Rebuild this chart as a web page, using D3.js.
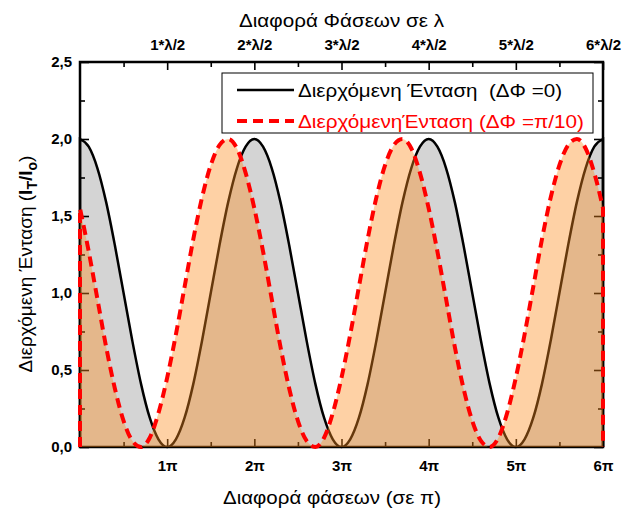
<!DOCTYPE html>
<html>
<head>
<meta charset="utf-8">
<script src="https://cdnjs.cloudflare.com/ajax/libs/d3/7.8.5/d3.min.js"></script>
<style>
  body { margin: 0; background: #fff; }
  svg { font-family: "Liberation Sans", Arial, sans-serif; }
  .tick text { font-weight: bold; font-size: 15px; fill: #000; }
  .tick line { stroke: #000; stroke-width: 1.6; }
</style>
</head>
<body>
<div id="container"></div>
<script>
const width = 629;
const height = 513;

// phase difference in units of pi, sampled every 0.1
const phase = d3.range(0, 61).map(i => i / 10);

// transmitted intensity, dPhi = 0
const intensity0 = [
  2.00, 1.95, 1.81, 1.59, 1.31, 1.00, 0.69, 0.41, 0.19, 0.05,
  0.00, 0.05, 0.19, 0.41, 0.69, 1.00, 1.31, 1.59, 1.81, 1.95,
  2.00, 1.95, 1.81, 1.59, 1.31, 1.00, 0.69, 0.41, 0.19, 0.05,
  0.00, 0.05, 0.19, 0.41, 0.69, 1.00, 1.31, 1.59, 1.81, 1.95,
  2.00, 1.95, 1.81, 1.59, 1.31, 1.00, 0.69, 0.41, 0.19, 0.05,
  0.00, 0.05, 0.19, 0.41, 0.69, 1.00, 1.31, 1.59, 1.81, 1.95,
  2.00
];

// transmitted intensity, dPhi = pi/10
const intensity1 = [
  1.55, 1.27, 0.96, 0.65, 0.38, 0.17, 0.04, 0.00, 0.06, 0.22,
  0.45, 0.73, 1.04, 1.35, 1.62, 1.83, 1.96, 2.00, 1.94, 1.78,
  1.55, 1.27, 0.96, 0.65, 0.38, 0.17, 0.04, 0.00, 0.06, 0.22,
  0.45, 0.73, 1.04, 1.35, 1.62, 1.83, 1.96, 2.00, 1.94, 1.78,
  1.55, 1.27, 0.96, 0.65, 0.38, 0.17, 0.04, 0.00, 0.06, 0.22,
  0.45, 0.73, 1.04, 1.35, 1.62, 1.83, 1.96, 2.00, 1.94, 1.78,
  1.55
];

const bottomTicks = [1, 2, 3, 4, 5, 6];
const bottomLabels = ["1π", "2π", "3π", "4π", "5π", "6π"];
const topLabels = ["1*λ/2", "2*λ/2", "3*λ/2", "4*λ/2", "5*λ/2", "6*λ/2"];
const minorX = [0.5, 1.5, 2.5, 3.5, 4.5, 5.5];
const yTicks = [0, 0.5, 1.0, 1.5, 2.0, 2.5];
const minorY = [0.25, 0.75, 1.25, 1.75, 2.25];

const legendLabels = ["Διερχόμενη Ένταση  (ΔΦ =0)", "ΔιερχόμενηΈνταση (ΔΦ =π/10)"];

const pL = 80, pR = 603, pT = 62, pB = 447;

const x = d3.scaleLinear().domain([0, 6]).range([pL, pR]);
const y = d3.scaleLinear().domain([0, 2.5]).range([pB, pT]);

const svg = d3.select("#container").append("svg")
  .attr("width", width)
  .attr("height", height);

const rows0 = phase.map((p, i) => ({ p: p, v: intensity0[i] }));
const rows1 = phase.map((p, i) => ({ p: p, v: intensity1[i] }));

const area = d3.area()
  .x(d => x(d.p))
  .y0(y(0))
  .y1(d => y(d.v))
  .curve(d3.curveMonotoneX);

// closed outline: up the left edge, along the curve, down the right edge
const outline = rows => {
  const l = d3.line().x(d => x(d.p)).y(d => y(d.v)).curve(d3.curveMonotoneX)(rows);
  return "M" + x(0) + "," + y(0) + "L" + l.slice(1) + "L" + x(6) + "," + y(0);
};

// grey fill under the dPhi = 0 curve
svg.append("path")
  .attr("d", area(rows0))
  .attr("fill", "#d4d4d4");

// axes with inward ticks
const fmtY = d => d3.format(".1f")(d).replace(".", ",");

svg.append("g")
  .attr("transform", "translate(0," + pB + ")")
  .call(d3.axisBottom(x).tickValues(bottomTicks).tickSize(-8).tickPadding(13)
    .tickFormat((d, i) => bottomLabels[i]))
  .call(g => g.select(".domain").remove());
svg.append("g")
  .attr("transform", "translate(0," + pB + ")")
  .call(d3.axisBottom(x).tickValues(minorX).tickSize(-5).tickFormat(""))
  .call(g => g.select(".domain").remove());

svg.append("g")
  .attr("transform", "translate(0," + pT + ")")
  .call(d3.axisTop(x).tickValues(bottomTicks).tickSize(-8).tickPadding(12)
    .tickFormat((d, i) => topLabels[i]))
  .call(g => g.select(".domain").remove());
svg.append("g")
  .attr("transform", "translate(0," + pT + ")")
  .call(d3.axisTop(x).tickValues(minorX).tickSize(-5).tickFormat(""))
  .call(g => g.select(".domain").remove());

svg.append("g")
  .attr("transform", "translate(" + pL + ",0)")
  .call(d3.axisLeft(y).tickValues(yTicks).tickSize(-9).tickPadding(8).tickFormat(fmtY))
  .call(g => g.select(".domain").remove());
svg.append("g")
  .attr("transform", "translate(" + pL + ",0)")
  .call(d3.axisLeft(y).tickValues(minorY).tickSize(-5).tickFormat(""))
  .call(g => g.select(".domain").remove());

svg.append("g")
  .attr("transform", "translate(" + pR + ",0)")
  .call(d3.axisRight(y).tickValues(yTicks).tickSize(-9).tickFormat(""))
  .call(g => g.select(".domain").remove());
svg.append("g")
  .attr("transform", "translate(" + pR + ",0)")
  .call(d3.axisRight(y).tickValues(minorY).tickSize(-5).tickFormat(""))
  .call(g => g.select(".domain").remove());

svg.append("rect")
  .attr("x", pL).attr("y", pT)
  .attr("width", pR - pL).attr("height", pB - pT)
  .attr("fill", "none")
  .attr("stroke", "#000")
  .attr("stroke-width", 2.5);

// black curve
svg.append("path")
  .attr("d", outline(rows0))
  .attr("fill", "none")
  .attr("stroke", "#000")
  .attr("stroke-width", 2.5);

// orange translucent fill under the dPhi = pi/10 curve
svg.append("path")
  .attr("d", area(rows1))
  .attr("fill", "rgb(252,140,30)")
  .attr("fill-opacity", 0.4);

// red dashed curve
svg.append("path")
  .attr("d", outline(rows1))
  .attr("fill", "none")
  .attr("stroke", "#ff0000")
  .attr("stroke-width", 4)
  .attr("stroke-dasharray", "10,6");

// legend
const lg = svg.append("g");
lg.append("rect")
  .attr("x", 222).attr("y", 73)
  .attr("width", 371).attr("height", 60)
  .attr("fill", "#fff")
  .attr("stroke", "#000")
  .attr("stroke-width", 1);
lg.append("line")
  .attr("x1", 237).attr("x2", 294).attr("y1", 90).attr("y2", 90)
  .attr("stroke", "#000").attr("stroke-width", 2.5);
lg.append("line")
  .attr("x1", 237).attr("x2", 294).attr("y1", 121).attr("y2", 121)
  .attr("stroke", "#ff0000").attr("stroke-width", 4)
  .attr("stroke-dasharray", "10,6");
const legendWidths = [264, 286];
lg.selectAll("text.leg")
  .data(legendLabels)
  .enter()
  .append("text")
  .attr("class", "leg")
  .attr("x", 298)
  .attr("y", (d, i) => 97 + i * 31)
  .attr("font-size", "18px")
  .attr("xml:space", "preserve")
  .style("white-space", "pre")
  .attr("textLength", (d, i) => legendWidths[i])
  .attr("lengthAdjust", "spacingAndGlyphs")
  .attr("fill", (d, i) => i === 0 ? "#000" : "#ff0000")
  .text(d => d);

// axis titles
svg.append("text")
  .attr("x", (pL + pR) / 2)
  .attr("y", 27)
  .attr("text-anchor", "middle")
  .attr("font-size", "19px")
  .attr("textLength", 205)
  .attr("lengthAdjust", "spacingAndGlyphs")
  .text("Διαφορά Φάσεων σε λ");

svg.append("text")
  .attr("x", 332)
  .attr("y", 504)
  .attr("text-anchor", "middle")
  .attr("font-size", "19px")
  .attr("textLength", 218)
  .attr("lengthAdjust", "spacingAndGlyphs")
  .text("Διαφορά φάσεων (σε π)");

const yl = svg.append("text")
  .attr("transform", "translate(32," + 264 + ") rotate(-90)")
  .attr("text-anchor", "middle")
  .attr("font-size", "19px");
yl.append("tspan").text("Διερχόμενη Ένταση (");
yl.append("tspan").attr("font-weight", "bold").text("I");
yl.append("tspan").attr("font-weight", "bold").attr("font-size", "14px").attr("dy", 5).text("T");
yl.append("tspan").attr("font-weight", "bold").attr("dy", -5).text("/I");
yl.append("tspan").attr("font-weight", "bold").attr("font-size", "14px").attr("dy", 5).text("o");
yl.append("tspan").attr("dy", -5).text(")");
</script>
</body>
</html>
